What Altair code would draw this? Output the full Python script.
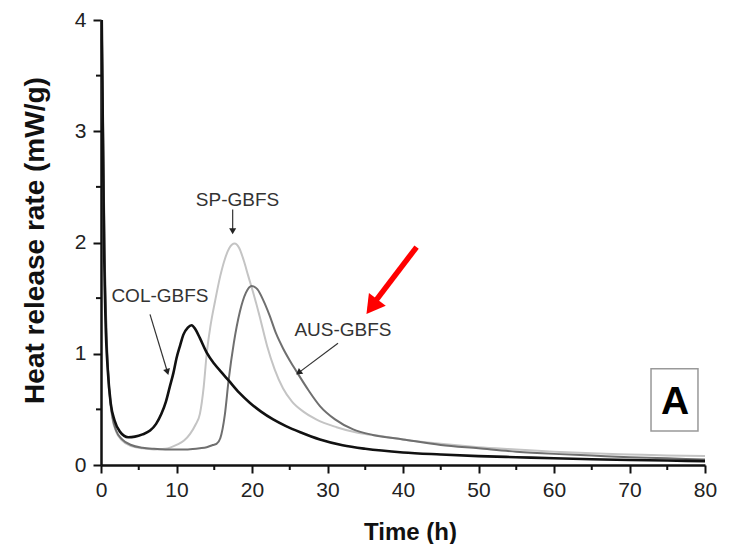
import altair as alt
import pandas as pd

# ---------------- data ----------------
col_t = [0.1, 0.25, 0.4, 0.6, 0.9, 1.3, 1.8, 2.5, 3.6, 4.5, 5.5, 6.5, 7.3, 8.0, 8.6, 9.1, 9.6,
         10.0, 10.5, 10.9, 11.5, 12.0, 12.5, 13.1, 14.0, 15.0, 16.0, 16.9, 18.3, 19.7, 21.2,
         22.8, 24.5, 26.4, 29, 32, 35, 40, 45, 50, 55, 60, 65, 70, 75, 80]
col_v = [4.0, 3.0, 2.0, 1.3, 0.85, 0.55, 0.40, 0.30, 0.25, 0.255, 0.275, 0.31, 0.37, 0.46, 0.57,
         0.70, 0.83, 0.96, 1.08, 1.17, 1.235, 1.256, 1.22, 1.14, 1.01, 0.91, 0.83, 0.76, 0.65,
         0.56, 0.48, 0.41, 0.35, 0.295, 0.23, 0.178, 0.146, 0.113, 0.095, 0.08, 0.07, 0.06,
         0.052, 0.045, 0.04, 0.035]

sp_t = [0.1, 0.3, 0.5, 0.75, 1.1, 1.5, 2.0, 2.8, 4.0, 5.5, 7.0, 8.5, 10.0, 11.0, 11.8, 12.5,
        13.1, 13.6, 14.0, 14.5, 15.1, 15.8, 16.4, 17.0, 17.7, 18.3, 18.9, 19.5, 20.2, 21.0,
        22.0, 23.0, 24.1, 25.3, 26.8, 28.5, 31.2, 34, 37, 40, 45, 50, 55, 60, 65, 70, 75, 80]
sp_v = [4.0, 2.8, 1.8, 1.1, 0.65, 0.42, 0.30, 0.22, 0.17, 0.15, 0.14, 0.145, 0.18, 0.22, 0.28,
        0.36, 0.46, 0.70, 1.0, 1.25, 1.47, 1.70, 1.85, 1.95, 1.99, 1.95, 1.84, 1.70, 1.54, 1.34,
        1.07, 0.86, 0.69, 0.57, 0.48, 0.41, 0.34, 0.29, 0.26, 0.23, 0.19, 0.16, 0.14, 0.12,
        0.105, 0.095, 0.085, 0.08]

aus_t = [0.1, 0.3, 0.5, 0.75, 1.1, 1.5, 2.0, 2.8, 4.0, 5.5, 7.0, 8.5, 10.0, 11.5, 13.1, 14.0,
         14.8, 15.3, 15.8, 16.4, 16.9, 17.6, 18.4, 19.2, 19.95, 20.7, 21.5, 22.3, 23.2, 24.1,
         25.0, 25.9, 27.5, 29.0, 31.0, 33.4, 36, 40, 45, 50, 55, 60, 65, 70, 75, 80]
aus_v = [4.0, 2.9, 1.85, 1.15, 0.68, 0.44, 0.31, 0.23, 0.18, 0.155, 0.145, 0.14, 0.14, 0.14,
         0.15, 0.16, 0.18, 0.19, 0.24, 0.45, 0.76, 1.10, 1.38, 1.55, 1.61, 1.58, 1.48, 1.35,
         1.18, 1.05, 0.94, 0.84, 0.67, 0.53, 0.41, 0.32, 0.27, 0.23, 0.18, 0.15, 0.12, 0.10,
         0.085, 0.07, 0.06, 0.05]

x_major = [0, 10, 20, 30, 40, 50, 60, 70, 80]
x_minor = [5, 15, 25, 35, 45, 55, 65, 75]
y_major = [0, 1, 2, 3, 4]
y_minor = [0.5, 1.5, 2.5, 3.5]

# annotations (labels with arrows)
ann_text = ["SP-GBFS", "COL-GBFS", "AUS-GBFS"]
ann_t = [18.08, 7.81, 32.05]
ann_v = [2.382, 1.523, 1.211]
arr_t1 = [17.44, 6.49, 31.39]
arr_v1 = [2.297, 1.354, 1.095]
arr_t2 = [17.44, 8.76, 26.28]
arr_v2 = [2.110, 0.845, 0.835]
arr_ang = [180, 163.2, 232.6]

red_t1, red_v1, red_t2, red_v2, red_ang = [41.8], [1.959], [36.3], [1.469], [216.7]
red_head_t, red_head_v = [36.12], [1.445]

box_t1, box_t2, box_v1, box_v2 = [72.85], [79.07], [0.866], [0.305]
panel_label, panel_t, panel_v = ["A"], [76.03], [0.57]

# ---------------- build tables ----------------
df_col = pd.DataFrame({"t": col_t, "v": col_v})
df_sp = pd.DataFrame({"t": sp_t, "v": sp_v})
df_aus = pd.DataFrame({"t": aus_t, "v": aus_v})
df_ann = pd.DataFrame({"label": ann_text, "t": ann_t, "v": ann_v})
df_arr = pd.DataFrame({"t1": arr_t1, "v1": arr_v1, "t2": arr_t2, "v2": arr_v2, "ang": arr_ang})
df_red = pd.DataFrame({"t1": red_t1, "v1": red_v1, "t2": red_t2, "v2": red_v2})
df_redh = pd.DataFrame({"t": red_head_t, "v": red_head_v, "ang": red_ang})
df_box = pd.DataFrame({"t1": box_t1, "t2": box_t2, "v1": box_v1, "v2": box_v2})
df_A = pd.DataFrame({"label": panel_label, "t": panel_t, "v": panel_v})
df_xmin = pd.DataFrame({"t": x_minor})
df_ymin = pd.DataFrame({"v": y_minor})

FONT = "Liberation Sans"
W, H = 604, 445
xs = alt.Scale(domain=[0, 80], nice=False, zero=False)
ys = alt.Scale(domain=[0, 4], nice=False, zero=False)

x_axis = alt.Axis(values=x_major, format="d", title="Time (h)", tickSize=8, tickWidth=2,
                  domainWidth=2.5, domainColor="#111", tickColor="#111", labelFontSize=21,
                  labelColor="#222", labelPadding=6, labelFont=FONT, titleFont=FONT,
                  titleFontSize=24, titleFontWeight="bold", titleColor="#111", titleX=309,
                  titleY=74, titleBaseline="alphabetic", grid=False, labelFlush=False)
y_axis = alt.Axis(values=y_major, format="d", title="Heat release rate (mW/g)", tickSize=8,
                  tickWidth=2, domainWidth=2.5, domainColor="#111", tickColor="#111",
                  labelFontSize=21, labelColor="#222", labelPadding=7, labelFont=FONT,
                  titleFont=FONT, titleFontSize=28, titleFontWeight="bold", titleColor="#111",
                  titleX=-58, titleY=220, titleBaseline="alphabetic", grid=False,
                  labelFlush=False)


def X(field):
    return alt.X(field, type="quantitative", scale=xs, axis=x_axis)


def Y(field):
    return alt.Y(field, type="quantitative", scale=ys, axis=y_axis)


sp_line = alt.Chart(df_sp).mark_line(interpolate="monotone", color="#c4c4c4", strokeWidth=2).encode(
    x=X("t"), y=Y("v"))
aus_line = alt.Chart(df_aus).mark_line(interpolate="monotone", color="#6f6f6f", strokeWidth=2).encode(
    x=X("t"), y=Y("v"))
col_line = alt.Chart(df_col).mark_line(interpolate="monotone", color="#111111", strokeWidth=2.6).encode(
    x=X("t"), y=Y("v"))

ann_txt = alt.Chart(df_ann).mark_text(font=FONT, fontSize=19, color="#333", align="center",
                                      baseline="middle").encode(
    x=X("t"), y=Y("v"), text="label:N")
ann_shaft = alt.Chart(df_arr).mark_rule(color="#333", strokeWidth=1.2).encode(
    x=X("t1"), y=Y("v1"), x2="t2:Q", y2="v2:Q")
ann_head = alt.Chart(df_arr).mark_point(shape="triangle", filled=True, size=50, color="#222",
                                        opacity=1).encode(
    x=X("t2"), y=Y("v2"), angle=alt.Angle("ang:Q", scale=None))

red_shaft = alt.Chart(df_red).mark_rule(color="#ff0000", strokeWidth=5.5).encode(
    x=X("t1"), y=Y("v1"), x2="t2:Q", y2="v2:Q")
red_head = alt.Chart(df_redh).mark_point(shape="triangle", filled=True, size=441, color="#ff0000",
                                         opacity=1).encode(
    x=X("t"), y=Y("v"), angle=alt.Angle("ang:Q", scale=None))

box = alt.Chart(df_box).mark_rect(fill="white", stroke="#999", strokeWidth=1.5).encode(
    x=X("t1"), x2="t2:Q", y=Y("v1"), y2="v2:Q")
a_txt = alt.Chart(df_A).mark_text(font=FONT, fontSize=39, fontWeight="bold", color="#000",
                                  align="center", baseline="middle").encode(
    x=X("t"), y=Y("v"), text="label:N")

# minor ticks (the axes draw the major ones)
xminor = alt.Chart(df_xmin).mark_rule(color="#111", strokeWidth=2).encode(
    x=X("t"), y=alt.value(H), y2=alt.value(H + 5))
yminor = alt.Chart(df_ymin).mark_rule(color="#111", strokeWidth=2).encode(
    y=Y("v"), x=alt.value(0), x2=alt.value(-5))

chart = alt.layer(
    sp_line, aus_line, col_line, ann_shaft, ann_head, ann_txt, red_shaft, red_head,
    box, a_txt, xminor, yminor
).properties(
    width=W, height=H,
    autosize=alt.AutoSizeParams(type="none"),
    padding={"left": 93, "top": 12, "right": 14, "bottom": 79},
    background="white",
).configure_view(stroke=None)

chart.save("out.html", embed_options={"renderer": "svg", "actions": False})
